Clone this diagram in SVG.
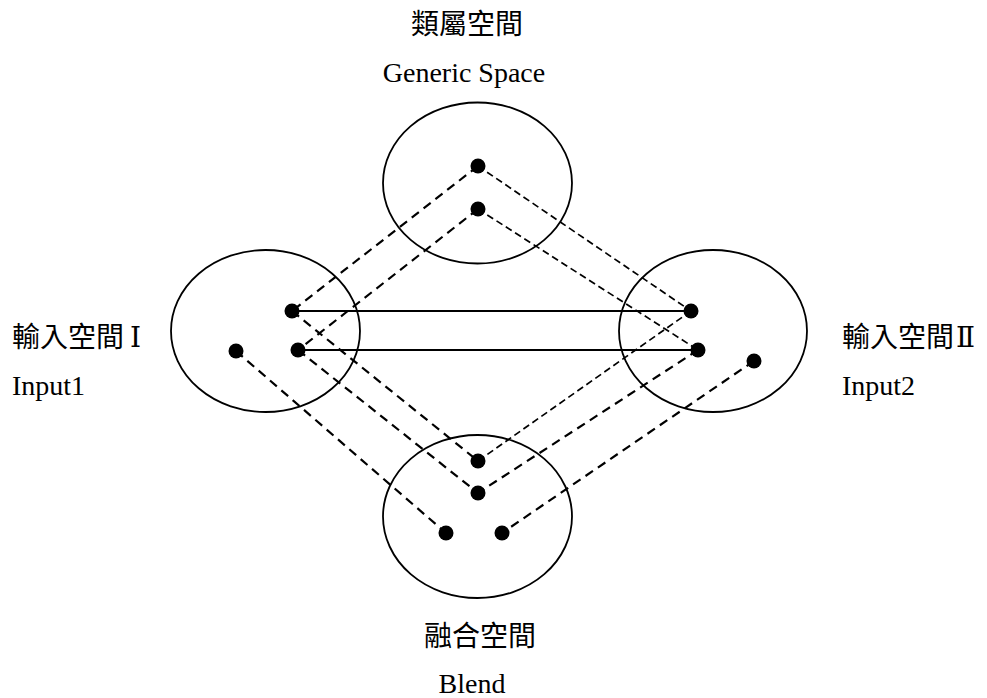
<svg xmlns="http://www.w3.org/2000/svg" width="987" height="698" viewBox="0 0 987 698">
<style>
.space{fill:none;stroke:#000;stroke-width:1.8}
.dot{fill:#000}
.solid{stroke:#000;stroke-width:2.2;fill:none}
.thick{stroke:#000;stroke-width:2.2;stroke-dasharray:9 6;fill:none}
.thin{stroke:#000;stroke-width:1.7;stroke-dasharray:7 4;fill:none}
text{font-family:"Liberation Serif","DejaVu Serif","Noto Sans CJK TC",serif;font-size:28px;fill:#000}
</style>
<rect width="987" height="698" fill="#fff"/>
<g id="generic">
<ellipse class="space" cx="477.5" cy="183" rx="94.5" ry="80.5"/>
<text x="467" y="34" text-anchor="middle">類屬空間</text>
<text x="464" y="82" text-anchor="middle">Generic Space</text>
</g>
<g id="input1">
<ellipse class="space" cx="265.5" cy="331" rx="94.5" ry="81"/>
<text x="12" y="347">輸入空間<tspan dx="6">Ⅰ</tspan></text>
<text x="12" y="395">Input1</text>
</g>
<g id="input2">
<ellipse class="space" cx="713" cy="331" rx="94" ry="81"/>
<text x="842" y="347">輸入空間<tspan dx="2" textLength="27" lengthAdjust="spacing">Ⅱ</tspan></text>
<text x="842" y="395">Input2</text>
</g>
<g id="blend">
<ellipse class="space" cx="477.5" cy="516.5" rx="94.5" ry="81.5"/>
<text x="480" y="646" text-anchor="middle">融合空間</text>
<text x="472" y="693" text-anchor="middle">Blend</text>
</g>
<g id="connectors">
<line class="solid" x1="292" y1="311" x2="691" y2="311"/>
<line class="solid" x1="298" y1="350" x2="698" y2="350"/>
<line class="thick" x1="478" y1="166" x2="292" y2="311"/>
<line class="thick" x1="478" y1="209" x2="298" y2="350"/>
<line class="thin" x1="478" y1="166" x2="691" y2="311"/>
<line class="thin" x1="478" y1="209" x2="698" y2="350"/>
<line class="thick" x1="292" y1="311" x2="478" y2="461"/>
<line class="thick" x1="298" y1="350" x2="478" y2="493"/>
<line class="thin" x1="691" y1="311" x2="478" y2="461"/>
<line class="thick" x1="698" y1="350" x2="478" y2="493"/>
<line class="thick" x1="236" y1="351" x2="446" y2="533"/>
<line class="thick" x1="754" y1="361" x2="502" y2="533"/>
</g>
<g id="dots">
<circle class="dot" cx="478" cy="166" r="7.5"/>
<circle class="dot" cx="478" cy="209" r="7.5"/>
<circle class="dot" cx="292" cy="311" r="7.5"/>
<circle class="dot" cx="298" cy="350" r="7.5"/>
<circle class="dot" cx="236" cy="351" r="7.5"/>
<circle class="dot" cx="691" cy="311" r="7.5"/>
<circle class="dot" cx="698" cy="350" r="7.5"/>
<circle class="dot" cx="754" cy="361" r="7.5"/>
<circle class="dot" cx="478" cy="461" r="7.5"/>
<circle class="dot" cx="478" cy="493" r="7.5"/>
<circle class="dot" cx="446" cy="533" r="7.5"/>
<circle class="dot" cx="502" cy="533" r="7.5"/>
</g>
</svg>
